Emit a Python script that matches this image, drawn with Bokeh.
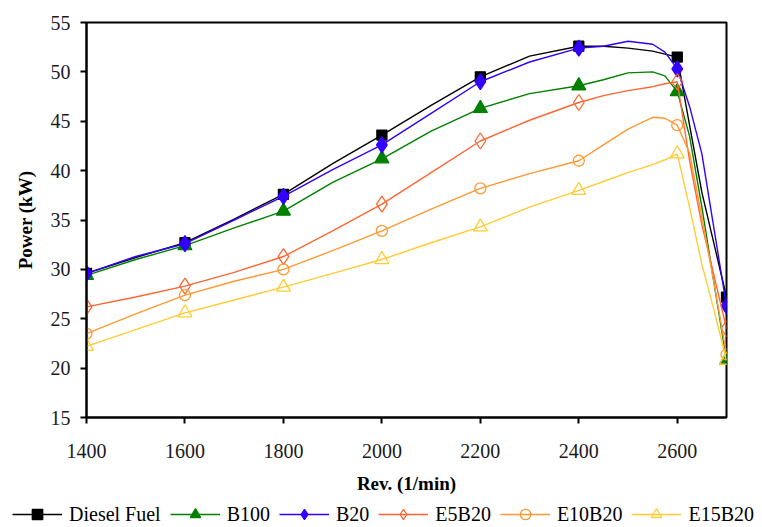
from bokeh.plotting import figure
from bokeh.layouts import column, row
from bokeh.models import (Range1d, FixedTicker, Legend, LegendItem)
from bokeh.embed import file_html
from bokeh.resources import INLINE

# ---- data ----
rpm_markers = [1400, 1600, 1800, 2000, 2200, 2400, 2600, 2700]
diesel = [29.6, 32.7, 37.6, 43.6, 49.5, 52.6, 51.5, 27.2]
b100 = [29.4, 32.4, 35.9, 41.2, 46.3, 48.6, 48.0, 20.8]
b20 = [29.6, 32.6, 37.4, 42.6, 49.0, 52.4, 50.3, 26.3]
e5b20 = [26.2, 28.3, 31.3, 36.6, 43.0, 46.9, 49.0, 24.0]
e10b20 = [23.5, 27.4, 30.0, 33.9, 38.2, 41.0, 44.6, 21.4]
e15b20 = [22.2, 25.6, 28.2, 31.0, 34.3, 38.0, 41.7, 20.8]

# smoothed curve points
rpm_curve = [1400, 1500, 1600, 1700, 1800, 1900, 2000, 2100, 2200, 2300,
             2400, 2450, 2500, 2550, 2575, 2600, 2625, 2650, 2675, 2700]
diesel_curve = [29.6, 31.2, 32.7, 35.1, 37.6, 40.7, 43.6, 46.6, 49.5, 51.6,
                52.6, 52.6, 52.4, 52.1, 51.8, 51.5, 44.6, 37.8, 32.5, 27.2]
b100_curve = [29.4, 31.0, 32.4, 34.2, 35.9, 38.8, 41.2, 44.0, 46.3, 47.8,
              48.6, 49.2, 49.9, 50.0, 49.6, 48.0, 43.5, 36.3, 28.5, 20.8]
b20_curve = [29.6, 31.3, 32.6, 35.0, 37.4, 40.1, 42.6, 45.8, 49.0, 51.0,
             52.4, 52.6, 53.1, 52.8, 52.0, 50.3, 46.5, 41.7, 34.0, 26.3]
e5b20_curve = [26.2, 27.2, 28.3, 29.7, 31.3, 33.9, 36.6, 39.8, 43.0, 45.1,
               46.9, 47.6, 48.1, 48.5, 48.8, 49.0, 41.0, 34.5, 29.3, 24.0]
e10b20_curve = [23.5, 25.5, 27.4, 28.8, 30.0, 31.9, 33.9, 36.1, 38.2, 39.7,
                41.0, 42.6, 44.2, 45.4, 45.3, 44.6, 41.8, 35.3, 28.5, 21.4]
e15b20_curve = [22.2, 23.9, 25.6, 26.9, 28.2, 29.6, 31.0, 32.7, 34.3, 36.3,
                38.0, 38.9, 39.8, 40.6, 41.1, 41.7, 36.3, 30.5, 25.8, 20.8]

x_ticks = [1400, 1600, 1800, 2000, 2200, 2400, 2600]
y_ticks = [15, 20, 25, 30, 35, 40, 45, 50, 55]

FONT = "Liberation Serif"

p = figure(width=762, height=500, output_backend="svg", toolbar_location=None,
           x_range=Range1d(1400, 2700), y_range=Range1d(15, 55),
           min_border_left=86, min_border_right=36, min_border_top=22,
           min_border_bottom=83)
p.background_fill_color = "white"
p.border_fill_color = "white"
p.outline_line_color = "black"
p.outline_line_width = 2
p.xgrid.visible = False
p.ygrid.visible = False

for ax in (p.xaxis[0], p.yaxis[0]):
    ax.axis_line_color = "black"
    ax.axis_line_width = 2
    ax.major_tick_line_color = "black"
    ax.major_tick_line_width = 2
    ax.major_tick_in = 0
    ax.major_tick_out = 6
    ax.minor_tick_line_color = None
    ax.major_label_text_font = FONT
    ax.major_label_text_font_size = "20px"
    ax.major_label_text_color = "#1a1a1a"
    ax.axis_label_text_font = FONT
    ax.axis_label_text_font_size = "19px"
    ax.axis_label_text_font_style = "bold"
    ax.axis_label_text_color = "black"

p.xaxis.ticker = FixedTicker(ticks=x_ticks)
p.yaxis.ticker = FixedTicker(ticks=y_ticks)
p.xaxis.axis_label = "Rev. (1/min)"
p.yaxis.axis_label = "Power (kW)"
p.xaxis.major_label_standoff = 20
p.yaxis.major_label_standoff = 10
p.xaxis.axis_label_standoff = 12
p.yaxis.axis_label_standoff = 12

series = [
    ("Diesel Fuel", diesel_curve, diesel, "black", "square", 10, "black"),
    ("B100", b100_curve, b100, "#008000", "triangle", 14, "#008000"),
    ("B20", b20_curve, b20, "#3300FF", "diamond", 16, "#3300FF"),
    ("E5B20", e5b20_curve, e5b20, "#FF6633", "diamond", 16, None),
    ("E10B20", e10b20_curve, e10b20, "#FF9933", "circle", 11, None),
    ("E15B20", e15b20_curve, e15b20, "#FFCC33", "triangle", 14, None),
]

# legend strip below the chart: same series drawn on a range that hides them,
# so only the legend swatches show
lg = figure(width=762, height=27, output_backend="svg", toolbar_location=None,
            x_range=Range1d(0, 1), y_range=Range1d(0, 1),
            x_axis_type=None, y_axis_type=None,
            min_border_left=0, min_border_right=0, min_border_top=0,
            min_border_bottom=0)
lg.outline_line_color = None
lg.xgrid.visible = False
lg.ygrid.visible = False
lg.background_fill_color = "white"
lg.border_fill_color = "white"

items = []
for label, curve, marks, color, marker, size, fill in series:
    p.line(rpm_curve, curve, line_color=color, line_width=1.4)
    p.scatter(rpm_markers, marks, marker=marker, size=size,
              line_color=color, fill_color=fill, line_width=1.3)
    lr = lg.line(rpm_curve, curve, line_color=color, line_width=1.6)
    mr = lg.scatter(rpm_markers, marks, marker=marker, size=size,
                    line_color=color, fill_color=fill, line_width=1.3)
    items.append(LegendItem(label=label, renderers=[lr, mr]))

legend = Legend(items=items, orientation="horizontal", location=(12, 0),
                glyph_width=50, glyph_height=26, label_standoff=7, spacing=9,
                padding=0, margin=0, border_line_color=None,
                background_fill_alpha=0,
                label_text_font=FONT, label_text_font_size="20px",
                label_text_color="black")
lg.add_layout(legend, "center")

layout = column(p, row(lg, spacing=0), spacing=0)
open("out.html", "w").write(file_html(layout, INLINE))
